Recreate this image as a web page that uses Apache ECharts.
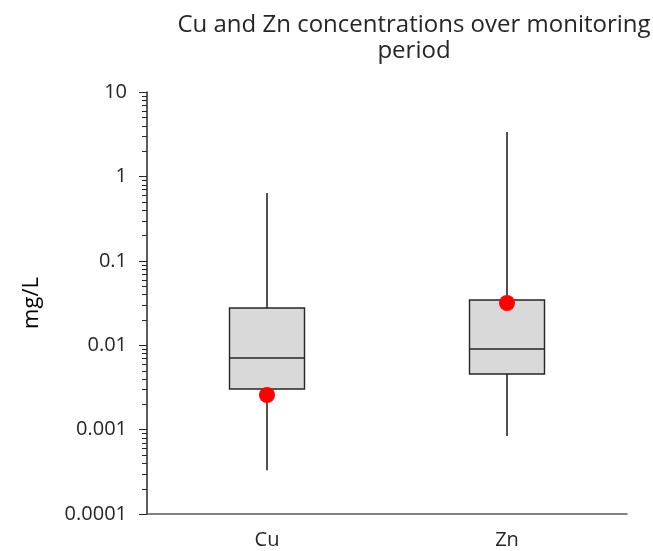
<!DOCTYPE html>
<html>
<head>
<meta charset="utf-8">
<script src="https://cdn.jsdelivr.net/npm/echarts@6/dist/echarts.min.js"></script>
<style>
html,body{margin:0;padding:0;background:#fff;}
#main{width:653px;height:551px;}
</style>
</head>
<body>
<div id="main"></div>
<script>
// data
var metals = ['Cu', 'Zn'];
// [min, Q1, median, Q3, max]
var boxValues = [
	[0.00033, 0.00303, 0.00705, 0.0276, 0.635],
	[0.00084, 0.00456, 0.00901, 0.0343, 3.36]
];
var meanValues = [0.00257, 0.0316];
var yTickLabels = ['0.0001', '0.001', '0.01', '0.1', '1', '10'];

var chart = echarts.init(document.getElementById('main'));
var font = 'Open Sans';
var boxW = 75;

// box and whiskers without end caps (like the excel chart)
function renderBox(params, api) {
	var x = api.value(0);
	var lo = api.coord([x, api.value(1)]);
	var q1 = api.coord([x, api.value(2)]);
	var md = api.coord([x, api.value(3)]);
	var q3 = api.coord([x, api.value(4)]);
	var hi = api.coord([x, api.value(5)]);
	var cx = Math.round(lo[0]);
	var line = {stroke: '#262626', lineWidth: 1.6};
	return {
		type: 'group',
		children: [
			{type: 'line', shape: {x1: cx, y1: hi[1], x2: cx, y2: q3[1]}, style: line},
			{type: 'line', shape: {x1: cx, y1: q1[1], x2: cx, y2: lo[1]}, style: line},
			{type: 'rect', shape: {x: cx - boxW / 2, y: q3[1], width: boxW, height: q1[1] - q3[1]},
				style: {fill: '#d9d9d9', stroke: '#262626', lineWidth: 1.4}},
			{type: 'line', shape: {x1: cx - boxW / 2, y1: md[1], x2: cx + boxW / 2, y2: md[1]}, style: line}
		]
	};
}

var option = {
	animation: false,
	title: {
		text: 'Cu and Zn concentrations over monitoring\nperiod',
		left: 409,
		top: 7,
		textAlign: 'center',
		textStyle: {
			fontFamily: font,
			fontSize: 24,
			fontWeight: 'normal',
			color: '#262626',
			lineHeight: 26
		}
	},
	grid: {
		left: 147,
		right: 26,
		top: 92,
		bottom: 37
	},
	xAxis: {
		type: 'category',
		data: metals,
		axisTick: {show: false},
		axisLine: {lineStyle: {color: '#595959', width: 1.5}},
		axisLabel: {
			fontFamily: font,
			fontSize: 20,
			color: '#262626',
			margin: 16
		}
	},
	yAxis: {
		type: 'log',
		logBase: 10,
		min: 0.0001,
		max: 10,
		name: 'mg/L',
		nameLocation: 'middle',
		nameGap: 104,
		nameTextStyle: {
			fontFamily: font,
			fontSize: 22,
			color: '#000'
		},
		splitLine: {show: false},
		axisLine: {show: true, lineStyle: {color: '#262626', width: 1.5}},
		axisTick: {show: true, length: 8, lineStyle: {color: '#262626'}},
		minorTick: {show: false},
		axisLabel: {
			fontFamily: font,
			fontSize: 20,
			color: '#262626',
			margin: 20,
			formatter: function (v) {
				var i = Math.round(Math.log10(v)) + 4;
				return yTickLabels[i];
			}
		}
	},
	series: [
		{
			type: 'custom',
			renderItem: renderBox,
			encode: {x: 0, y: [1, 2, 3, 4, 5]},
			data: boxValues.map(function (b, i) { return [i].concat(b); }),
			z: 2
		},
		{
			type: 'scatter',
			data: meanValues.map(function (v, i) { return [metals[i], v]; }),
			symbolSize: 16,
			itemStyle: {color: '#ff0000', opacity: 1},
			z: 5
		}
	]
};
chart.setOption(option);

// minor ticks at 2..9 of each decade, placed by the axis scale
var minor = [];
for (var e = -4; e < 1; e++) {
	for (var m = 2; m <= 9; m++) {
		var p = chart.convertToPixel({yAxisIndex: 0}, m * Math.pow(10, e));
		minor.push({
			type: 'line',
			shape: {x1: 142, y1: Math.round(p) + 0.5, x2: 147, y2: Math.round(p) + 0.5},
			style: {stroke: '#262626', lineWidth: 1}
		});
	}
}
chart.setOption({graphic: minor});
</script>
</body>
</html>
